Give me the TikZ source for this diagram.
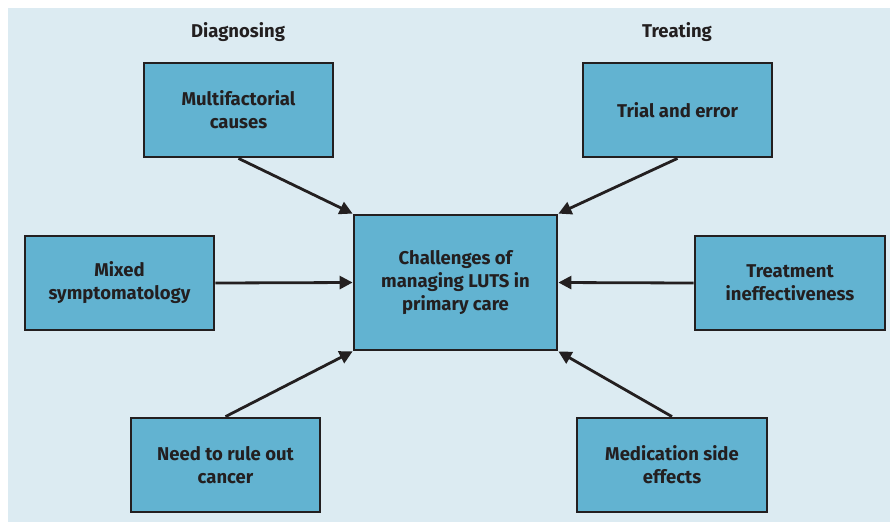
\documentclass[tikz,border=0pt]{standalone}
\usepackage{fontspec}
\setmainfont{Fira Sans}
\usetikzlibrary{arrows.meta}
\definecolor{bgblue}{HTML}{DCEBF2}
\definecolor{boxblue}{HTML}{62B3D1}
\definecolor{inkdark}{HTML}{231F20}
\begin{document}
\begin{tikzpicture}[x=1pt,y=-1pt,
  boxstyle/.style={draw=inkdark, line width=2.8pt, fill=boxblue, rectangle,
    inner sep=0pt, align=center, text=inkdark,
    font=\fontsize{18.5}{23}\selectfont\bfseries},
  headstyle/.style={text=inkdark, font=\fontsize{18.5}{23}\selectfont\bfseries, inner sep=0pt},
  arrowstyle/.style={draw=inkdark, line width=2.8pt, -{Triangle[length=13pt,width=13pt]}}]
\useasboundingbox (0,0) rectangle (890,523);
\fill[white] (0,0) rectangle (890,523);
\fill[bgblue] (8,8) rectangle (890,522);
\node[headstyle] (hd) at (238,32) {Diagnosing};
\node[headstyle] (ht) at (677,32) {Treating};
\node[boxstyle, minimum width=203pt, minimum height=135pt] (c) at (455.5,282.5) {Challenges of\\managing LUTS in\\primary care};
\node[boxstyle, minimum width=189pt, minimum height=94pt] (mf) at (238.5,110) {Multifactorial\\causes};
\node[boxstyle, minimum width=189pt, minimum height=94pt] (te) at (677.5,110) {Trial and error};
\node[boxstyle, minimum width=189pt, minimum height=94pt] (ms) at (119.5,283) {Mixed\\symptomatology};
\node[boxstyle, minimum width=190pt, minimum height=94pt] (ti) at (790,283) {Treatment\\ineffectiveness};
\node[boxstyle, minimum width=189pt, minimum height=94pt] (nr) at (225.5,465) {Need to rule out\\cancer};
\node[boxstyle, minimum width=190pt, minimum height=94pt] (md) at (672,465) {Medication side\\effects};
\draw[arrowstyle] (mf.south) -- (c.north west);
\draw[arrowstyle] (te.south) -- (c.north east);
\draw[arrowstyle] (ms.east) -- (c.west);
\draw[arrowstyle] (ti.west) -- (c.east);
\draw[arrowstyle] (nr.north) -- (c.south west);
\draw[arrowstyle] (md.north) -- (c.south east);
\end{tikzpicture}
\end{document}
